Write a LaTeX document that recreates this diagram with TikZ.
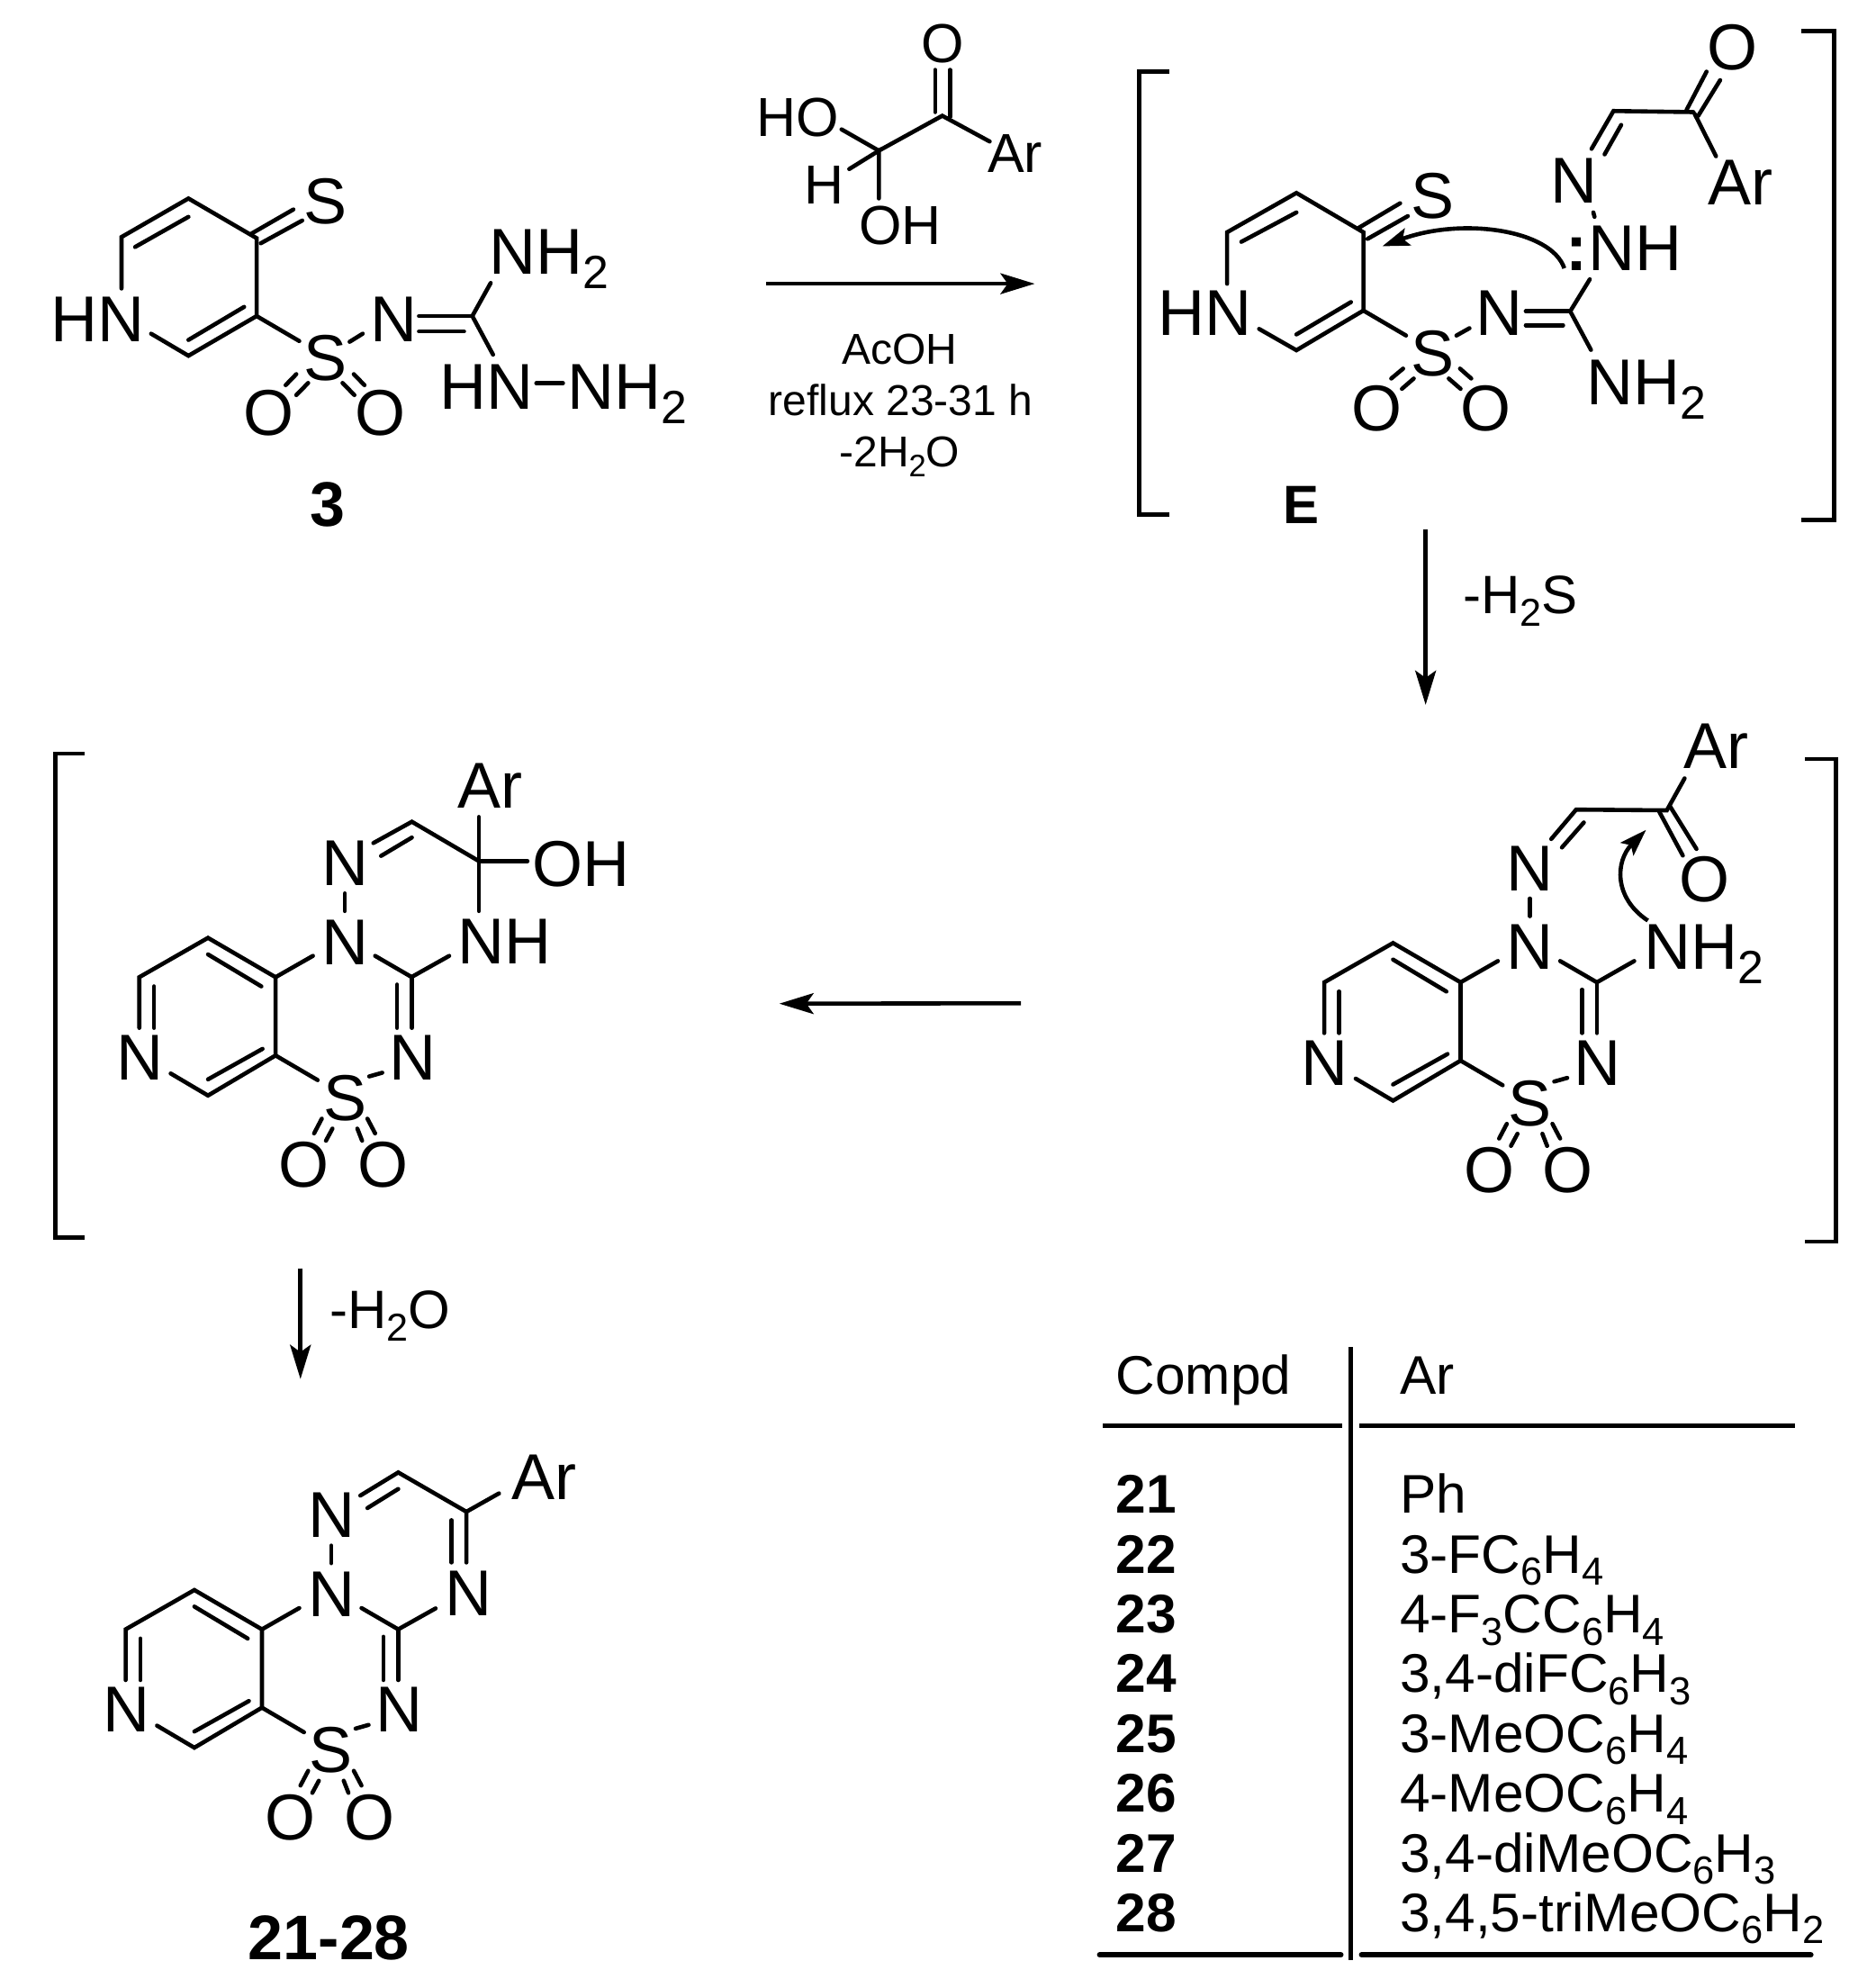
\documentclass[tikz,border=0pt]{standalone}
\usepackage{fontspec}
\setmainfont{Liberation Sans}
\usetikzlibrary{arrows.meta}
\newcommand\sbs[1]{\raisebox{-.225em}{\scalebox{.72}{#1}}}
\tikzset{
  zm/.style={x=0.32916pt,y=-0.20408pt},
  zt/.style={x=0.32916pt,y=-0.23596pt},
  bond/.style={line width=2.3pt,line cap=round,line join=miter,black},
  tabrule/.style={line width=2.6pt,black},
  rarrow/.style={line width=2.3pt,-{Stealth[length=19pt,width=11.5pt,inset=4pt]}},
  curved/.style={line width=2.3pt,-{Stealth[length=15pt,width=10pt,inset=3pt]}},
  atm/.style={anchor=base,inner sep=0pt,font=\fontsize{36}{36}\selectfont},
  ratm/.style={anchor=base,inner sep=0pt,font=\fontsize{30.5}{30.5}\selectfont},
  lbl/.style={anchor=base,inner sep=0pt,font=\fontsize{35}{35}\selectfont\bfseries},
  elbl/.style={anchor=base,inner sep=0pt,font=\fontsize{30}{30}\selectfont\bfseries},
  cond/.style={anchor=base,inner sep=0pt,font=\fontsize{24}{24}\selectfont},
  midt/.style={anchor=base,inner sep=0pt,font=\fontsize{30}{30}\selectfont},
  cell/.style={anchor=base west,inner sep=0pt,font=\fontsize{30.2}{30.2}\selectfont},
  bcell/.style={anchor=base west,inner sep=0pt,font=\fontsize{30.2}{30.2}\selectfont\bfseries},
}
% pyrido-thiadiazine core, in the coordinates of the middle right molecule
\newcommand\core[1]{%
  \node[atm] (#1Npy) at (668,1140) {N};
  \node[atm] (#1Nb) at (1014,825) {N};
  \node[atm] (#1Nt) at (1014,610) {N};
  \node[atm] (#1Nr) at (1128,1140) {N};
  \node[atm] (#1S) at (1014,1250) {S};
  \node[atm] (#1Ol) at (945,1432) {O};
  \node[atm] (#1Or) at (1078,1432) {O};
  \draw[bond] (667,998)--(667,860)--(783,753)--(897,860)--(897,1073)--(783,1182)--(720,1122);
  \draw[bond] (692,885)--(692,998);
  \draw[bond] (783,798)--(873,885);
  \draw[bond] (783,1138)--(875,1055);
  \draw[bond] (897,860)--(960,802);
  \draw[bond] (1065,802)--(1127,860);
  \draw[bond] (1127,860)--(1127,998);
  \draw[bond] (1102,880)--(1102,998);
  \draw[bond] (897,1073)--(968,1140);
  \draw[bond] (1055,1130)--(1077,1120);
  \draw[bond] (975,1245)--(962,1285);
  \draw[bond] (993,1272)--(982,1305);
  \draw[bond] (1035,1272)--(1043,1305);
  \draw[bond] (1052,1245)--(1065,1285);
  \draw[bond] (1014,632)--(1014,680);
}
\begin{document}
\begin{tikzpicture}
\useasboundingbox (0pt,0pt) rectangle (1032pt,-1104pt);
\fill[white] (0pt,0pt) rectangle (1032pt,-1104pt);

% ---------- compound 3 and reagent
\begin{scope}[zm]
  \node[atm] (aHN) at (165,930) {HN};
  \node[atm] (aSt) at (549,610) {S};
  \node[atm] (aS) at (549,1035) {S};
  \node[atm] (aN) at (664,930) {N};
  \node[atm] (aNHb) at (927,745) {NH\sbs{2}};
  \node[atm] (aHNb) at (821,1113) {HN};
  \node[atm] (aNHc) at (1058,1113) {NH\sbs{2}};
  \node[atm] (aOl) at (453,1185) {O};
  \node[atm] (aOr) at (642,1185) {O};
  \node[lbl] (a3) at (553,1432) {3};
  \draw[bond] (205,785)--(205,645)--(318,540)--(433,648)--(433,860)--(318,968)--(255,908);
  \draw[bond] (228,672)--(318,590);
  \draw[bond] (318,925)--(412,835);
  \draw[bond] (425,635)--(495,570);
  \draw[bond] (440,662)--(510,600);
  \draw[bond] (433,860)--(505,928);
  \draw[bond] (590,930)--(612,908);
  \draw[bond] (707,860)--(797,860);
  \draw[bond] (707,902)--(783,902);
  \draw[bond] (828,770)--(797,860)--(832,965);
  \draw[bond] (905,1043)--(950,1043);
  \draw[bond] (482,1048)--(500,1018);
  \draw[bond] (500,1075)--(520,1042);
  \draw[bond] (578,1042)--(598,1075);
  \draw[bond] (597,1018)--(615,1048);
  % reagent
  \node[ratm] (rHO) at (1346,370) {HO};
  \node[ratm] (rH) at (1391,555) {H};
  \node[ratm] (rOH) at (1519,665) {OH};
  \node[ratm] (rO) at (1590,170) {O};
  \node[ratm] (rAr) at (1713,470) {Ar};
  \draw[bond] (1420,352)--(1483,410)--(1590,315)--(1670,385);
  \draw[bond] (1433,460)--(1483,410)--(1483,540);
  \draw[bond] (1578,190)--(1578,305);
  \draw[bond] (1603,190)--(1603,318);
  % conditions
  \node[cond] (cA) at (1518,990) {AcOH};
  \node[cond] (cB) at (1520,1130) {reflux 23-31 h};
  \node[cond] (cC) at (1518,1270) {-2H\sbs{2}O};
  \coordinate (m1s) at (1293,772);
  \coordinate (m1e) at (1746,772);
  \draw[rarrow] (m1s)--(m1e);
\end{scope}

% ---------- intermediate E
\begin{scope}[shift={(516pt,0pt)},zm]
  \draw[bond,line cap=butt] (405,195)--(355,195)--(355,1400)--(405,1400);
  \draw[bond,line cap=butt] (1472,85)--(1527,85)--(1527,1415)--(1472,1415);
  \node[atm] (eHN) at (466,913) {HN};
  \node[atm] (eSt) at (850,595) {S};
  \node[atm] (eS) at (850,1022) {S};
  \node[atm] (eN) at (963,913) {N};
  \node[atm] (eNHb) at (1210,1100) {NH\sbs{2}};
  \node[atm] (eNH) at (1192,737) {NH};
  \node[atm] (ecol) at (1093,737) {\bfseries:};
  \node[atm] (eNt) at (1088,552) {N};
  \node[atm] (eO) at (1355,190) {O};
  \node[atm] (eAr) at (1370,558) {Ar};
  \node[atm] (eOl) at (755,1172) {O};
  \node[atm] (eOr) at (940,1172) {O};
  \node[elbl] (eE) at (628,1425) {E};
  \draw[bond] (503,772)--(503,632)--(620,525)--(733,632)--(733,845)--(620,953)--(557,895);
  \draw[bond] (527,658)--(620,578);
  \draw[bond] (620,910)--(712,822);
  \draw[bond] (725,620)--(795,553);
  \draw[bond] (740,650)--(808,588);
  \draw[bond] (733,845)--(805,913);
  \draw[bond] (890,913)--(912,893);
  \draw[bond] (1007,847)--(1082,847);
  \draw[bond] (1007,885)--(1070,885);
  \draw[bond] (1115,760)--(1082,847)--(1117,952);
  \draw[bond] (1121,578)--(1123,590);
  \draw[bond] (1118,405)--(1155,302)--(1290,305);
  \draw[bond] (1140,420)--(1168,340);
  \draw[bond] (1278,300)--(1312,195);
  \draw[bond] (1298,315)--(1335,218);
  \draw[bond] (1292,310)--(1328,425);
  \draw[bond] (780,1030)--(800,1003);
  \draw[bond] (798,1058)--(818,1030);
  \draw[bond] (877,1030)--(897,1058);
  \draw[bond] (896,1003)--(915,1030);
  \coordinate (c1s) at (1072,730);
  \coordinate (c1e) at (765,670);
  \draw[curved] (c1s) .. controls (1050,625) and (900,590) .. (c1e);
  \coordinate (m2s) at (838,1440);
  \node[midt] (mS) at (998,1670) {-H\sbs{2}S};
\end{scope}

% ---------- middle right molecule
\begin{scope}[shift={(516pt,-370pt)},zm]
  \draw[bond,line cap=butt] (1478,252)--(1530,252)--(1530,1565)--(1478,1565);
  \core{b}
  \node[atm] (bNH) at (1307,825) {NH\sbs{2}};
  \node[atm] (bAr) at (1328,277) {Ar};
  \node[atm] (bO) at (1308,640) {O};
  \draw[bond] (1127,860)--(1190,802);
  \draw[bond] (1050,470)--(1092,390)--(1245,392)--(1275,305);
  \draw[bond] (1068,493)--(1105,425);
  \draw[bond] (1232,395)--(1272,515);
  \draw[bond] (1250,380)--(1295,497);
  \coordinate (c2s) at (1213,692);
  \coordinate (c2e) at (1210,445);
  \draw[curved] (c2s) .. controls (1155,630) and (1158,530) .. (c2e);
  \coordinate (m2e) at (838,105);
  \coordinate (m3s) at (155,917);
\end{scope}
\draw[rarrow] (m2s)--(m2e);

% ---------- middle left molecule
\begin{scope}[shift={(0pt,-390pt)},zm]
  \draw[bond,line cap=butt] (143,140)--(93,140)--(93,1457)--(143,1457);
  \begin{scope}[shift={(-432,-112)}]
    \core{c}
  \end{scope}
  \node[atm] (cNH) at (851,712) {NH};
  \node[atm] (cAr) at (827,288) {Ar};
  \node[atm] (cOH) at (980,500) {OH};
  \draw[bond] (694,748)--(758,690);
  \draw[bond] (630,383)--(695,325)--(808,432);
  \draw[bond] (643,418)--(695,368);
  \draw[bond] (808,312)--(808,568);
  \draw[bond] (808,432)--(890,432);
  \coordinate (m3e) at (1315,820);
  \coordinate (m4s) at (507,1540);
\end{scope}
\draw[rarrow] (m3s)--(m3e);

% ---------- product
\begin{scope}[shift={(0pt,-784pt)},zm]
  \begin{scope}[shift={(-455,-268)}]
    \core{d}
  \end{scope}
  \node[atm] (dNr) at (790,555) {N};
  \node[atm] (dAr) at (918,238) {Ar};
  \node[lbl] (dlab) at (555,1490) {21-28};
  \draw[bond] (672,592)--(735,535);
  \draw[bond] (787,410)--(787,272)--(672,165)--(608,228);
  \draw[bond] (762,295)--(762,410);
  \draw[bond] (620,262)--(672,210);
  \draw[bond] (787,272)--(842,222);
  \coordinate (m4e) at (507,-89);
  \node[midt] (mO) at (658,-226) {-H\sbs{2}O};
\end{scope}
\draw[rarrow] (m4s)--(m4e);

% ---------- table
\begin{scope}[shift={(516pt,-734pt)},zt]
  \draw[tabrule] (293,245)--(697,245);
  \draw[tabrule] (726,245)--(1462,245);
  \draw[tabrule,line width=3pt,line cap=round] (288,1490)--(695,1490);
  \draw[tabrule,line width=3pt,line cap=round] (730,1490)--(1488,1490);
  \draw[tabrule] (712,60)--(712,1503);
  \node[cell] (th1) at (315,170) {Compd};
  \node[cell] (th2) at (794,170) {Ar};
  \node[bcell] (n1) at (315,450) {21};
  \node[bcell] (n2) at (315,592) {22};
  \node[bcell] (n3) at (315,732) {23};
  \node[bcell] (n4) at (315,872) {24};
  \node[bcell] (n5) at (315,1013) {25};
  \node[bcell] (n6) at (315,1154) {26};
  \node[bcell] (n7) at (315,1295) {27};
  \node[bcell] (n8) at (315,1435) {28};
  \node[cell] (r1) at (794,450) {Ph};
  \node[cell] (r2) at (794,592) {3-FC\sbs{6}H\sbs{4}};
  \node[cell] (r3) at (794,732) {4-F\sbs{3}CC\sbs{6}H\sbs{4}};
  \node[cell] (r4) at (794,872) {3,4-diFC\sbs{6}H\sbs{3}};
  \node[cell] (r5) at (794,1013) {3-MeOC\sbs{6}H\sbs{4}};
  \node[cell] (r6) at (794,1154) {4-MeOC\sbs{6}H\sbs{4}};
  \node[cell] (r7) at (794,1295) {3,4-diMeOC\sbs{6}H\sbs{3}};
  \node[cell] (r8) at (794,1435) {3,4,5-triMeOC\sbs{6}H\sbs{2}};
\end{scope}
\end{tikzpicture}
\end{document}
